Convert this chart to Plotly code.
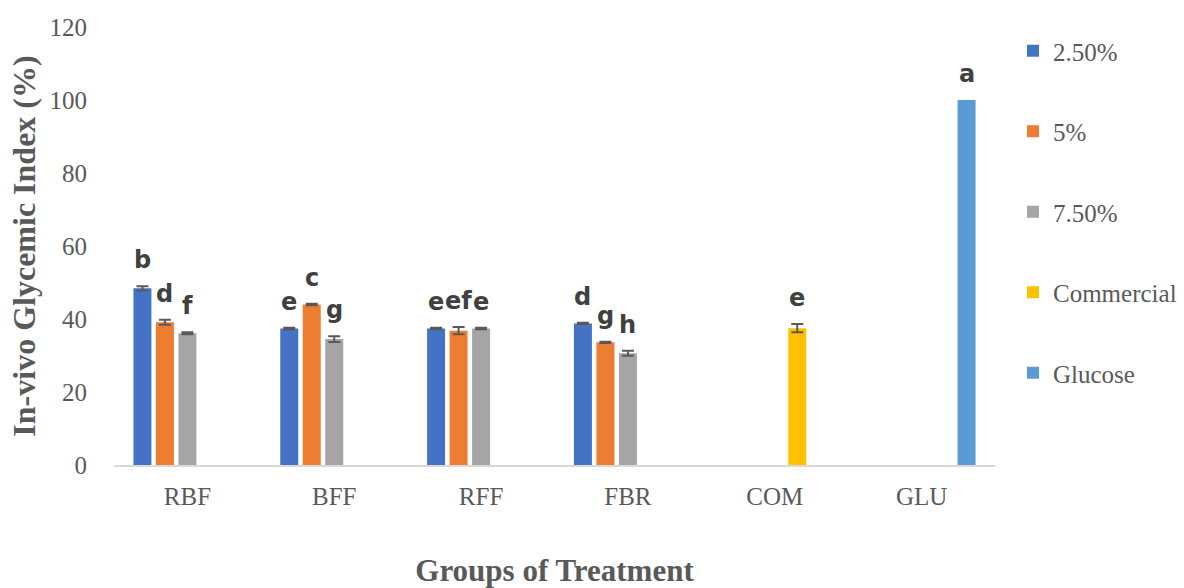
import plotly.graph_objects as go

# Treatment groups on the x axis
groups = ["RBF", "BFF", "RFF", "FBR", "COM", "GLU"]

# Mean in-vivo glycemic index (%) per series; None where a series has no bar
gi_2_5 = [48.4, 37.4, 37.4, 38.8, None, None]
gi_5 = [39.1, 44.0, 36.8, 33.6, None, None]
gi_7_5 = [36.1, 34.5, 37.4, 30.6, None, None]
gi_commercial = [None, None, None, None, 37.5, None]
gi_glucose = [None, None, None, None, None, 100.0]

# Standard deviations (None: no error bar drawn)
sd_2_5 = [0.6, 0.2, 0.2, 0.2, None, None]
sd_5 = [0.7, 0.2, 1.0, 0.2, None, None]
sd_7_5 = [0.3, 0.8, 0.2, 0.7, None, None]
sd_commercial = [None, None, None, None, 1.1, None]
sd_glucose = [None, None, None, None, None, None]

# Significance letters above each bar
let_2_5 = ["b", "e", "e", "d", None, None]
let_5 = ["d", "c", "ef", "g", None, None]
let_7_5 = ["f", "g", "e", "h", None, None]
let_commercial = [None, None, None, None, "e", None]
let_glucose = [None, None, None, None, None, "a"]

series_names = ["2.50%", "5%", "7.50%", "Commercial", "Glucose"]
series_vals = [gi_2_5, gi_5, gi_7_5, gi_commercial, gi_glucose]
series_sd = [sd_2_5, sd_5, sd_7_5, sd_commercial, sd_glucose]
series_letters = [let_2_5, let_5, let_7_5, let_commercial, let_glucose]
colors = ["#4472C4", "#ED7D31", "#A5A5A5", "#FFC000", "#5B9BD5"]

W, H = 1184, 588
M_L, M_R, M_T, M_B = 114, 189, 27, 123
BARGAP = 0.234
BARGROUPGAP = 0.2

SERIF = "Liberation Serif"
TXT = "#595959"

fig = go.Figure()
for i, (name, vals, sd) in enumerate(zip(series_names, series_vals, series_sd)):
    has_err = any(s is not None for s in sd)
    fig.add_trace(go.Bar(
        name=name,
        x=groups,
        y=vals,
        marker=dict(color=colors[i], line=dict(width=0)),
        error_y=dict(type="data", array=[s if s is not None else 0 for s in sd],
                     visible=has_err, color="#595959", thickness=2, width=6),
        legendgroup=name,
    ))

# Letter labels: placed above each bar's error bar, shifted to the bar's slot
plot_w = W - M_L - M_R
cat_w = plot_w / len(groups)
slot_w = cat_w * (1 - BARGAP) / len(series_names)
for i, (vals, sd, letters) in enumerate(zip(series_vals, series_sd, series_letters)):
    for g, v, s, lab in zip(groups, vals, sd, letters):
        if v is None or lab is None:
            continue
        fig.add_annotation(
            x=g, y=v + (s or 0), xref="x", yref="y",
            text=lab, showarrow=False,
            xanchor="center", yanchor="bottom",
            xshift=(i - (len(series_names) - 1) / 2) * slot_w,
            yshift=10,
            font=dict(family="DejaVu Sans", size=24, color="#404040", weight="bold"),
        )

fig.update_layout(
    width=W, height=H,
    margin=dict(l=M_L, r=M_R, t=M_T, b=M_B, autoexpand=False),
    paper_bgcolor="white", plot_bgcolor="white",
    barmode="group", bargap=BARGAP, bargroupgap=BARGROUPGAP,
    font=dict(family=SERIF, color=TXT, size=24),
    showlegend=True,
    legend=dict(
        xref="container", yref="container",
        x=1013 / W, y=1 - 28 / H, xanchor="left", yanchor="top",
        font=dict(family=SERIF, size=25, color=TXT),
        tracegroupgap=45, traceorder="grouped",
        itemwidth=30, maxheight=560,
        bgcolor="rgba(0,0,0,0)",
    ),
    xaxis=dict(
        automargin=False,
        showgrid=False, showline=True, linecolor="#D9D9D9", linewidth=1.5,
        ticks="", tickfont=dict(family=SERIF, size=25, color=TXT),
        ticklabelstandoff=8,
        title=dict(text="<b>Groups of Treatment</b>",
                   font=dict(family=SERIF, size=31, color=TXT), standoff=52),
    ),
    yaxis=dict(
        automargin=False,
        range=[0, 120], tickvals=[0, 20, 40, 60, 80, 100, 120],
        showgrid=False, showline=False, zeroline=False, ticks="",
        tickfont=dict(family=SERIF, size=25, color=TXT),
        ticklabelstandoff=26,
        title=dict(text="<b>In-vivo Glycemic Index (%)</b>",
                   font=dict(family=SERIF, size=32, color=TXT), standoff=4),
    ),
)

fig.write_html("out.html")
